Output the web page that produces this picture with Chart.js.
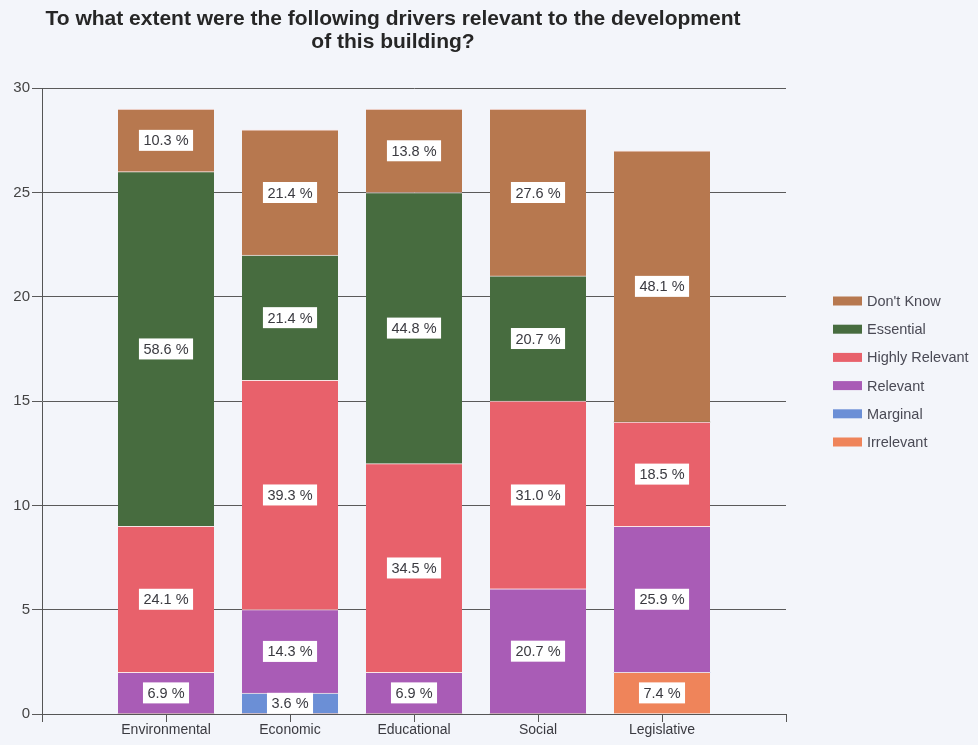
<!DOCTYPE html>
<html>
<head>
<meta charset="utf-8">
<title>Drivers relevant to the development</title>
<script src="https://cdn.jsdelivr.net/npm/chart.js@4/dist/chart.umd.min.js"></script>
<style>
    html, body { margin: 0; padding: 0; background: #f3f5fa; }
    #wrap { width: 978px; height: 745px; position: relative; }
</style>
</head>
<body>
<div id="wrap"><canvas id="driversChart"></canvas></div>
<script>
// survey counts per driver, stacked from the bottom up
const categories = ["Environmental", "Economic", "Educational", "Social", "Legislative"];
const irrelevant     = [0, 0, 0, 0, 2];
const marginal       = [0, 1, 0, 0, 0];
const relevant       = [2, 4, 2, 6, 7];
const highlyRelevant = [7, 11, 10, 9, 5];
const essential      = [17, 6, 13, 6, 0];
const dontKnow       = [3, 6, 4, 8, 13];
const yTicks = [0, 5, 10, 15, 20, 25, 30];

const FONT = "'Liberation Sans', Arial, sans-serif";

const series = [
    { label: "Irrelevant", data: irrelevant, color: "#ef845a" },
    { label: "Marginal", data: marginal, color: "#6b8fd6" },
    { label: "Relevant", data: relevant, color: "#a95cb6" },
    { label: "Highly Relevant", data: highlyRelevant, color: "#e8616b" },
    { label: "Essential", data: essential, color: "#476c3f" },
    { label: "Don't Know", data: dontKnow, color: "#b7784f" },
];

// one empty slot on each side so the bars sit on the inner ticks
const xLabels = ["", ...categories, ""];
const totals = categories.map((c, i) => series.reduce((s, d) => s + d.data[i], 0));

// white boxes with the share of each segment
const percentLabels = {
    id: "percentLabels",
    afterDatasetsDraw(chart) {
        const ctx = chart.ctx;
        ctx.save();
        ctx.font = "14.5px " + FONT;
        ctx.textAlign = "center";
        ctx.textBaseline = "middle";
        chart.data.datasets.forEach((ds, di) => {
            const meta = chart.getDatasetMeta(di);
            meta.data.forEach((bar, i) => {
                const v = ds.data[i];
                if (!v) return;
                const total = totals[i - 1];
                const text = (v / total * 100).toFixed(1) + " %";
                const cy = (bar.y + bar.base) / 2;
                const w = ctx.measureText(text).width + 9;
                ctx.fillStyle = "#ffffff";
                ctx.fillRect(bar.x - w / 2, cy - 10.5, w, 21);
                ctx.fillStyle = "#3a3a40";
                ctx.fillText(text, bar.x, cy + 1);
            });
        });
        ctx.restore();
    },
};

// legend on the right, top series first
const sideLegend = {
    id: "sideLegend",
    afterDraw(chart) {
        const ctx = chart.ctx;
        ctx.save();
        ctx.font = "14.5px " + FONT;
        ctx.textBaseline = "middle";
        const items = chart.data.datasets.slice().reverse();
        items.forEach((ds, k) => {
            const y = 301 + k * 28.2;
            ctx.fillStyle = ds.backgroundColor;
            ctx.fillRect(833, y - 4.5, 29, 9);
            ctx.fillStyle = "#4a4a55";
            ctx.fillText(ds.label, 867, y + 1);
        });
        ctx.restore();
    },
};

new Chart(document.getElementById("driversChart"), {
    type: "bar",
    data: {
        labels: xLabels,
        datasets: series.map(s => ({
            label: s.label,
            data: [null, ...s.data, null],
            backgroundColor: s.color,
            borderColor: "rgba(255,230,230,0.75)",
            borderWidth: { top: 1, left: 0, right: 0, bottom: 0 },
            borderSkipped: false,
            barThickness: 96,
        })),
    },
    options: {
        responsive: true,
        maintainAspectRatio: false,
        animation: false,
        layout: { padding: { left: 0, right: 192, top: 0, bottom: 0 } },
        plugins: {
            legend: { display: false },
            tooltip: { enabled: false },
            title: {
                display: true,
                text: ["To what extent were the following drivers relevant to the development", "of this building?"],
                color: "#262626",
                font: { family: FONT, size: 21, weight: "bold", lineHeight: 1.1 },
                padding: { top: 8, bottom: 34 },
            },
        },
        scales: {
            x: {
                stacked: true,
                offset: false,
                grid: { offset: false, drawOnChartArea: false, color: "#555", tickLength: 8 },
                border: { color: "#555" },
                ticks: {
                    autoSkip: false,
                    maxRotation: 0,
                    padding: 0,
                    color: "#3a3a40",
                    font: { family: FONT, size: 14 },
                },
                afterFit(scale) { scale.height = 31; },
            },
            y: {
                stacked: true,
                min: 0,
                max: 30,
                afterBuildTicks(scale) { scale.ticks = yTicks.map(v => ({ value: v })); },
                grid: { color: "#5a5a5a", tickLength: 10 },
                border: { color: "#555" },
                ticks: {
                    padding: 2,
                    color: "#444",
                    font: { family: FONT, size: 15 },
                },
                afterFit(scale) { scale.width = 42; },
            },
        },
    },
    plugins: [percentLabels, sideLegend],
});
</script>
</body>
</html>
